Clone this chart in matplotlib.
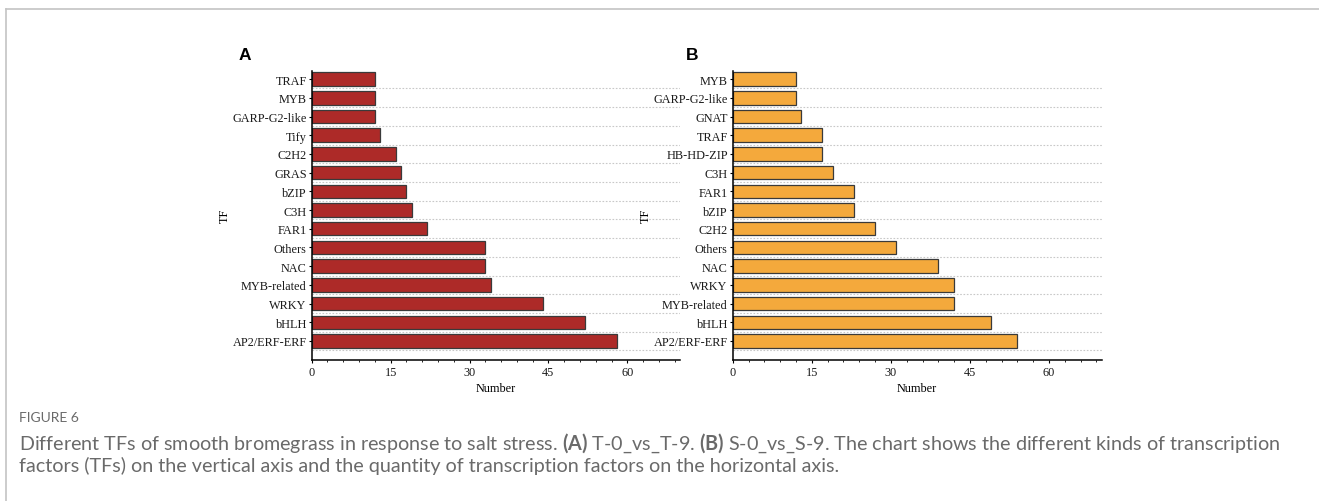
import matplotlib
matplotlib.use('Agg')
import matplotlib.pyplot as plt
from matplotlib.lines import Line2D
from matplotlib.ticker import MultipleLocator

# panel A: T-0_vs_T-9 (bottom to top)
tf_a = ['AP2/ERF-ERF', 'bHLH', 'WRKY', 'MYB-related', 'NAC', 'Others', 'FAR1',
        'C3H', 'bZIP', 'GRAS', 'C2H2', 'Tify', 'GARP-G2-like', 'MYB', 'TRAF']
num_a = [58, 52, 44, 34, 33, 33, 22, 19, 18, 17, 16, 13, 12, 12, 12]

# panel B: S-0_vs_S-9 (bottom to top)
tf_b = ['AP2/ERF-ERF', 'bHLH', 'MYB-related', 'WRKY', 'NAC', 'Others', 'C2H2',
        'bZIP', 'FAR1', 'C3H', 'HB-HD-ZIP', 'TRAF', 'GNAT', 'GARP-G2-like', 'MYB']
num_b = [54, 49, 42, 42, 39, 31, 27, 23, 23, 19, 17, 17, 13, 12, 12]

xticks = [0, 15, 30, 45, 60]

serif = 'Liberation Serif'
plt.rcParams['mathtext.fontset'] = 'custom'
plt.rcParams['mathtext.rm'] = 'Lato'
plt.rcParams['mathtext.bf'] = 'Lato:bold'

fig = plt.figure(figsize=(13.19, 5.02), dpi=100)


def draw_panel(rect, names, values, color, letter, letter_x):
    ax = fig.add_axes(rect)
    pos = list(range(len(names)))
    for i in range(len(names)):
        ax.axhline(i - 0.5, color='#c8c8c8', lw=0.8, ls=(0, (1.5, 1.5)), zorder=0)
    ax.barh(pos, values, height=0.72, color=color, edgecolor='#3a3a3a',
            linewidth=0.9, zorder=2)
    ax.set_xlim(0, 70)
    ax.set_ylim(-1.0, len(names) - 0.55)
    ax.set_yticks(pos)
    ax.set_yticklabels(names, fontfamily=serif, fontsize=8.8, color='#1a1a1a')
    ax.set_xticks(xticks)
    ax.set_xticklabels([str(t) for t in xticks], fontfamily=serif,
                       fontsize=8.8, color='#1a1a1a')
    ax.xaxis.set_minor_locator(MultipleLocator(3))
    ax.tick_params(axis='y', length=2.5, width=0.8, pad=1)
    ax.tick_params(axis='x', which='major', length=2.5, width=0.8, pad=2)
    ax.tick_params(axis='x', which='minor', length=1.5, width=0.6)
    for s in ['top', 'right']:
        ax.spines[s].set_visible(False)
    for s in ['left', 'bottom']:
        ax.spines[s].set_linewidth(1.1)
    ax.set_xlabel('Number', fontfamily=serif, fontsize=8.8, labelpad=3)
    ax.set_ylabel('TF', fontfamily=serif, fontsize=8.8, labelpad=1)
    fig.text(letter_x, 1 - 60 / 502, letter, fontfamily='Liberation Sans',
             fontweight='bold', fontsize=12.5, ha='left', va='baseline')
    return ax


draw_panel([0.2363, 0.2815, 0.2792, 0.5757], tf_a, num_a, '#ad2a28', 'A', 239 / 1319)
draw_panel([0.5555, 0.2815, 0.2798, 0.5757], tf_b, num_b, '#f4a93c', 'B', 686 / 1319)

# page frame lines
fig.add_artist(Line2D([6 / 1319, 6 / 1319], [0, 1 - 10 / 502], color='#c4c4c4', lw=1.2))
fig.add_artist(Line2D([6 / 1319, 1], [1 - 10 / 502, 1 - 10 / 502], color='#c4c4c4', lw=1.2))

# caption
cap_font = 'Lato'
cap_x = 19 / 1319
fig.text(cap_x, 1 - 418 / 502, 'FIGURE 6', fontfamily=cap_font, fontsize=10,
         color='#6a6a6a', va='center', ha='left')
line1 = ('Different TFs of smooth bromegrass in response to salt stress. '
         r'$\bf{(A)}$ T-0_vs_T-9. $\bf{(B)}$ S-0_vs_S-9. The chart shows the different kinds of transcription')
fig.text(cap_x, 1 - 443 / 502, line1, fontfamily=cap_font, fontsize=14.2,
         color='#6a6a6a', va='center', ha='left')
line2 = 'factors (TFs) on the vertical axis and the quantity of transcription factors on the horizontal axis.'
fig.text(cap_x, 1 - 466 / 502, line2, fontfamily=cap_font, fontsize=14.2,
         color='#6a6a6a', va='center', ha='left')

plt.savefig('out.png', dpi=100)
